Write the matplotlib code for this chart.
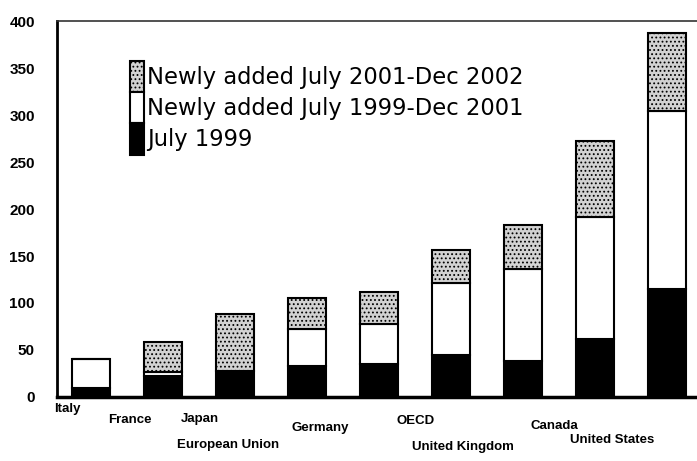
import matplotlib.pyplot as plt
import numpy as np

# values
countries = ["Italy", "France", "Japan", "European Union", "Germany",
             "OECD", "United Kingdom", "Canada", "United States"]
july_1999 = [10, 22, 28, 33, 35, 45, 38, 62, 115]
added_99_01 = [30, 5, 0, 39, 43, 76, 98, 130, 189]
added_01_02 = [0, 32, 60, 33, 34, 35, 47, 80, 83]
yticks = [0, 50, 100, 150, 200, 250, 300, 350, 400]

# where the scan put each category label (offset from bar, height below axis)
label_dx = [-0.33, -0.46, -0.49, -1.10, -0.82, -0.49, -0.83, -0.56, -0.76]
label_dy = [-0.032, -0.061, -0.059, -0.128, -0.082, -0.064, -0.133, -0.077, -0.114]

tick_font = ['Liberation Sans Narrow', 'Liberation Sans', 'DejaVu Sans']
plt.rcParams['hatch.color'] = '#9a9a9a'
plt.rcParams['hatch.linewidth'] = 0.8

fig = plt.figure(figsize=(6.97, 4.61), dpi=100)
ax = fig.add_axes([0.082, 0.139, 0.918, 0.815])

x = np.arange(len(countries))
b1 = np.array(july_1999)
b2 = b1 + np.array(added_99_01)
w = 0.53
ax.bar(x, july_1999, w, color='black', edgecolor='black', lw=1.5,
       label='July 1999')
ax.bar(x, added_99_01, w, bottom=b1, color='white', edgecolor='black', lw=1.5,
       label='Newly added July 1999-Dec 2001')
ax.bar(x, added_01_02, w, bottom=b2, color='#d2d2d2', edgecolor='black', lw=1.5,
       hatch='....', label='Newly added July 2001-Dec 2002')

ax.set_xlim(-0.47, 8.42)
ax.set_ylim(0, 400)
ax.set_yticks(yticks)
ax.set_yticklabels([str(t) for t in yticks], family=tick_font,
                   fontweight='bold', fontsize=11)
ax.tick_params(axis='y', length=0, pad=16)
ax.set_xticks([])

ax.spines['right'].set_visible(False)
ax.spines['left'].set_linewidth(2)
ax.spines['bottom'].set_linewidth(2.5)
ax.spines['top'].set_linewidth(1.2)
ax.spines['top'].set_color('#333333')

for i, name in enumerate(countries):
    ax.text(i + label_dx[i], label_dy[i], name, transform=ax.get_xaxis_transform(),
            ha='center', va='center', family=tick_font, fontweight='bold',
            fontsize=9.5, clip_on=False)

h, l = ax.get_legend_handles_labels()
ax.legend(h[::-1], l[::-1], loc='upper left', bbox_to_anchor=(0.114, 0.895),
          frameon=False, fontsize=16.3, labelspacing=0, handleheight=1.75,
          handlelength=0.62, handletextpad=0.12, borderpad=0, borderaxespad=0)

fig.savefig('out.png', dpi=100)
